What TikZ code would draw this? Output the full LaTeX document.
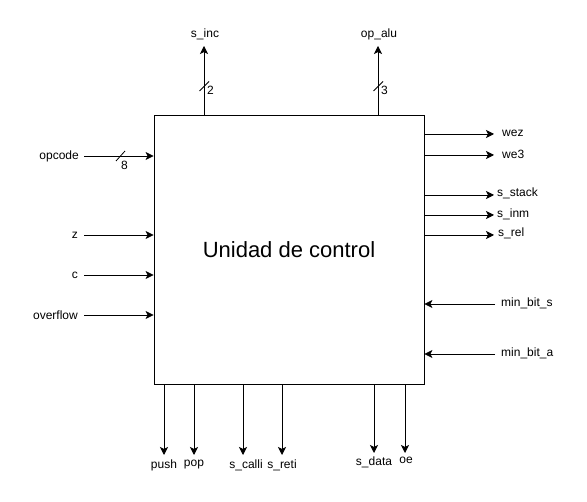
\documentclass[tikz,border=0pt]{standalone}
\usepackage{fontspec}
\setmainfont{Liberation Sans}
\usetikzlibrary{arrows.meta}

\begin{document}
\begin{tikzpicture}[
  x=1pt,y=-1pt,
  font=\fontsize{12}{14}\selectfont,
  sig/.style={draw=black,line width=0.8pt,-{Stealth[length=8pt,width=8pt,inset=2pt]}},
  bus/.style={draw=black,line width=0.8pt},
  lbl/.style={inner sep=0pt},
]
  \useasboundingbox (0,0) rectangle (587,502);

  \node[draw=black,line width=0.8pt,minimum width=270pt,minimum height=269pt,inner sep=0pt]
    (ctrl) at (289,249.5) {};
  \node[font=\fontsize{22}{25}\selectfont] (title) at (289,250) {Unidad de control};

  % salidas superiores (buses)
  \coordinate (inc) at (204,46);
  \coordinate (alu) at (378,46);
  \draw[sig] (ctrl.north -| inc) -- (inc);
  \draw[sig] (ctrl.north -| alu) -- (alu);
  \node[lbl,anchor=south] (incLbl) at (205,40) {s\_inc};
  \node[lbl,anchor=south] (aluLbl) at (379,40) {op\_alu};
  \draw[bus] (199.5,91) -- (209,81.5);
  \draw[bus] (373.5,91) -- (383,81.5);
  \node[lbl,anchor=west] (incW) at (207,90) {2};
  \node[lbl,anchor=west] (aluW) at (381,90) {3};

  % entradas
  \node[lbl,anchor=east] (opcode) at (79,156) {opcode};
  \node[lbl,anchor=east] (z) at (78,235) {z};
  \node[lbl,anchor=east] (c) at (78,275) {c};
  \node[lbl,anchor=east] (ovf) at (78,315) {overflow};
  \draw[sig] (84,156) -- (ctrl.west |- opcode);
  \draw[sig] (84,235) -- (ctrl.west |- z);
  \draw[sig] (84,275) -- (ctrl.west |- c);
  \draw[sig] (84,315) -- (ctrl.west |- ovf);
  \draw[bus] (116,161) -- (125,151);
  \node[lbl] (opW) at (124.5,165.5) {8};

  % salidas derecha
  \node[lbl,anchor=west] (wez) at (502,133) {wez};
  \node[lbl,anchor=west] (we3) at (502,154) {we3};
  \node[lbl,anchor=west] (stack) at (497,193) {s\_stack};
  \node[lbl,anchor=west] (inm) at (497,214) {s\_inm};
  \node[lbl,anchor=west] (rel) at (498,233) {s\_rel};
  \draw[sig] (ctrl.east |- 0,134) -- (494,134);
  \draw[sig] (ctrl.east |- 0,155) -- (494,155);
  \draw[sig] (ctrl.east |- 0,195) -- (494,195);
  \draw[sig] (ctrl.east |- 0,215) -- (494,215);
  \draw[sig] (ctrl.east |- 0,235) -- (494,235);

  % entradas derecha
  \node[lbl,anchor=west] (minS) at (501,303) {min\_bit\_s};
  \node[lbl,anchor=west] (minA) at (501,353) {min\_bit\_a};
  \draw[sig] (495,304) -- (ctrl.east |- 0,304);
  \draw[sig] (495,354) -- (ctrl.east |- 0,354);

  % salidas inferiores
  \node[lbl,anchor=north] (push) at (164,460) {push};
  \node[lbl,anchor=north] (pop) at (194,460) {pop};
  \node[lbl,anchor=north] (calli) at (246,460) {s\_calli};
  \node[lbl,anchor=north] (reti) at (282,460) {s\_reti};
  \node[lbl,anchor=north] (data) at (374,457) {s\_data};
  \node[lbl,anchor=north] (oe) at (406,457) {oe};
  \draw[sig] (ctrl.south -| 164,0) -- (164,455);
  \draw[sig] (ctrl.south -| 194,0) -- (194,455);
  \draw[sig] (ctrl.south -| 243,0) -- (243,455);
  \draw[sig] (ctrl.south -| 282,0) -- (282,455);
  \draw[sig] (ctrl.south -| 374,0) -- (374,453);
  \draw[sig] (ctrl.south -| 405,0) -- (405,453);
\end{tikzpicture}
\end{document}
